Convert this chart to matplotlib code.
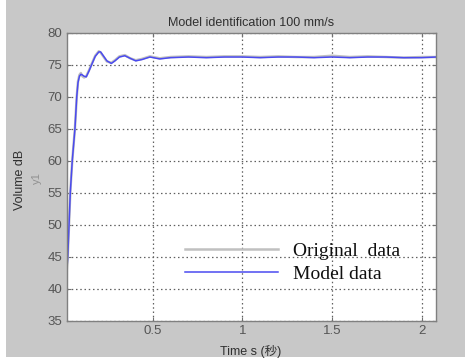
import matplotlib
matplotlib.use("Agg")
import matplotlib.pyplot as plt
from matplotlib.patches import Rectangle

# ---- data ----
time_s = [0.021, 0.022, 0.027, 0.034, 0.041, 0.052, 0.067, 0.077, 0.084, 0.092,
          0.100, 0.108, 0.118, 0.130, 0.145, 0.160, 0.180, 0.200, 0.210, 0.225,
          0.245, 0.270, 0.290, 0.315, 0.345, 0.375, 0.406, 0.440, 0.485, 0.540,
          0.600, 0.700, 0.800, 0.900, 1.000, 1.100, 1.200, 1.300, 1.400, 1.500,
          1.600, 1.700, 1.800, 1.900, 2.000, 2.080]
model_db = [38.2, 43.0, 45.0, 50.0, 55.0, 60.0, 65.0, 70.0, 72.2, 73.2,
            73.5, 73.4, 73.2, 73.1, 74.0, 75.0, 76.3, 77.0, 77.0, 76.4,
            75.6, 75.2, 75.6, 76.2, 76.4, 76.0, 75.6, 75.8, 76.2, 75.9,
            76.1, 76.2, 76.1, 76.2, 76.2, 76.1, 76.2, 76.2, 76.1, 76.2,
            76.1, 76.2, 76.2, 76.1, 76.1, 76.2]
orig_db = [38.2, 43.0, 45.1, 50.0, 55.1, 60.0, 65.1, 70.0, 72.4, 73.4,
           73.7, 73.2, 73.0, 73.2, 74.1, 75.1, 76.4, 77.1, 76.9, 76.3,
           75.5, 75.3, 75.7, 76.3, 76.5, 76.0, 75.7, 75.9, 76.3, 76.0,
           76.2, 76.3, 76.2, 76.3, 76.3, 76.2, 76.3, 76.2, 76.2, 76.4,
           76.2, 76.3, 76.2, 76.1, 76.2, 76.2]
x_ticks = [0.5, 1, 1.5, 2]
x_tick_labels = ["0.5", "1", "1.5", "2"]
y_ticks = [35, 40, 45, 50, 55, 60, 65, 70, 75, 80]
series_labels = ["Original  data", "Model data"]

W, H = 465, 361
fig = plt.figure(figsize=(W / 100, H / 100), dpi=100, facecolor="white")
fig.patches.append(Rectangle((6 / W, 1 - 357 / H), 1, 1, transform=fig.transFigure,
                             facecolor="#c8c8c8", edgecolor="none", zorder=-10))

ax = fig.add_axes([66.7 / W, 1 - 320.7 / H, (436 - 66.7) / W, (320.7 - 32.7) / H])
ax.set_facecolor("white")

l1, = ax.plot(time_s, orig_db, color="#c0c0c0", lw=1.8, label=series_labels[0])
l2, = ax.plot(time_s, model_db, color="#4a4af0", lw=1.1, label=series_labels[1])

ax.set_xlim(0.021, 2.08)
ax.set_ylim(35, 80)
ax.set_xticks(x_ticks)
ax.set_xticklabels(x_tick_labels)
ax.set_yticks(y_ticks)

tick_color = "#555555"
ax.tick_params(axis="both", direction="in", length=3, width=0.8, colors="#707070",
               labelcolor=tick_color, labelsize=9.5, pad=3,
               top=True, right=True)
for sp in ax.spines.values():
    sp.set_color("#808080")
    sp.set_linewidth(1.0)

ax.grid(True, linestyle=(0, (1.2, 2.2)), color="#606060", linewidth=0.9)
ax.set_axisbelow(True)

ax.set_title("Model identification 100 mm/s", fontsize=9, color="#303030", pad=5,
             family=["Liberation Sans", "DejaVu Sans"])
fig.text(251 / W, 1 - 352 / H, "Time s (秒)", ha="center", va="center", fontsize=9,
         color="#303030", family=["Liberation Sans", "Noto Sans CJK JP"])
fig.text(20 / W, 1 - 180 / H, "Volume dB", ha="center", va="center", rotation=90,
         fontsize=9, color="#303030", family=["Liberation Sans", "DejaVu Sans"])
fig.text(37 / W, 1 - 178 / H, "y1", ha="center", va="center", rotation=90,
         fontsize=8, color="#909090", family=["Liberation Sans", "DejaVu Sans"])

for lab in ax.get_xticklabels() + ax.get_yticklabels():
    lab.set_family(["Liberation Sans", "DejaVu Sans"])

leg = ax.legend(handles=[l1, l2], loc="upper left",
                bbox_to_anchor=((185 - 66.7) / 369.3, 1 - (242 - 32.7) / 288),
                frameon=False, borderpad=0, borderaxespad=0, handlelength=4.8,
                handletextpad=0.75, labelspacing=0.28,
                prop={"family": "Liberation Serif", "size": 14})
for t in leg.get_texts():
    t.set_color("#101010")

fig.savefig("out.png", dpi=100, facecolor="white")
